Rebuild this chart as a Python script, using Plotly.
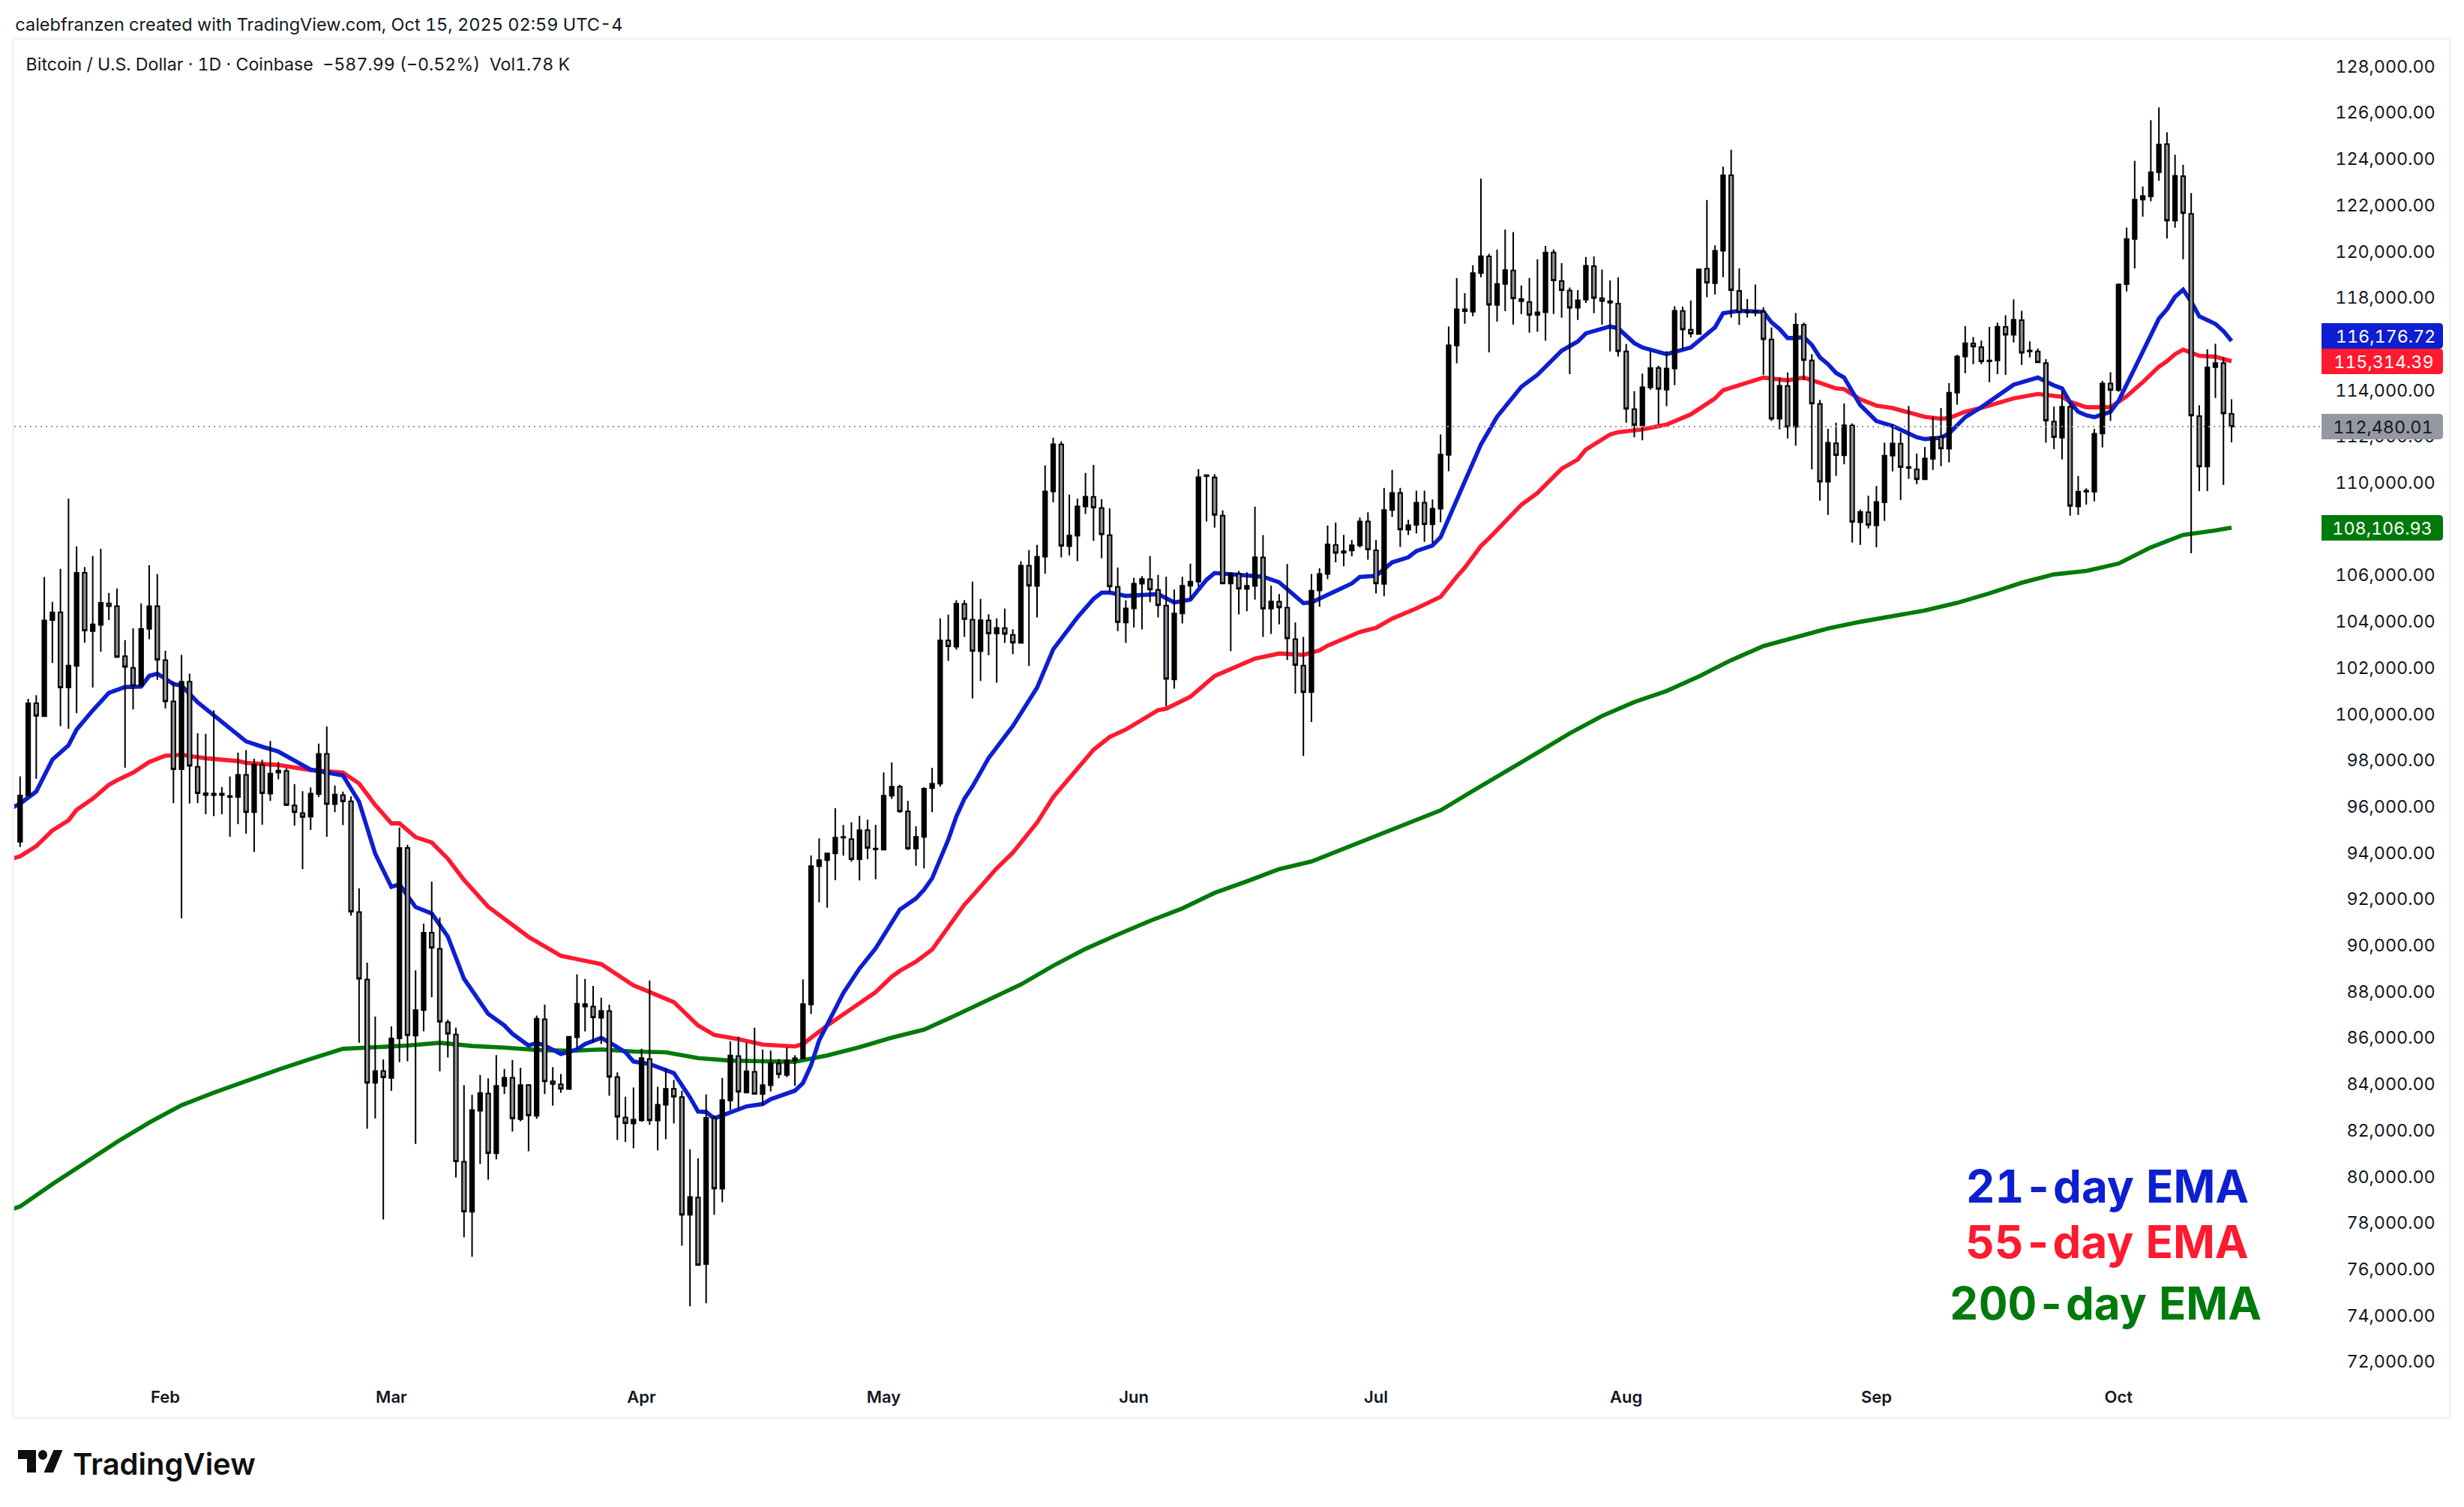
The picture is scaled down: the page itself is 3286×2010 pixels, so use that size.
import pandas as pd
import plotly.graph_objects as go

# ---------- data (prices in thousands of USD) ----------
first_day = "2025-01-14"
opens = [94.53,96.53,100.52,99.96,104.12,104.45,101.20,102.13,106.16,103.64,103.91,104.84,104.72,102.55,102.05,101.28,103.74,104.72,102.38,100.60,
97.67,101.45,97.77,96.55,96.61,96.55,96.51,96.47,97.42,95.81,97.85,96.61,97.52,97.59,96.10,95.77,95.62,96.59,98.33,96.16,
96.55,96.28,91.49,88.57,84.11,84.62,84.32,86.03,94.26,86.15,87.25,90.60,89.90,86.73,86.20,80.70,78.53,82.90,83.65,81.06,
83.97,84.33,82.54,84.01,82.68,86.86,84.17,84.04,83.84,86.08,87.41,87.41,86.92,87.21,84.36,82.61,82.35,82.49,85.14,82.48,
83.16,83.85,83.49,78.40,79.15,76.27,82.58,79.53,83.35,85.27,83.69,84.59,83.62,84.00,84.94,84.45,85.07,85.17,87.50,93.48,
93.74,94.03,94.71,94.64,93.78,95.03,94.20,94.19,96.52,96.91,95.84,94.24,94.74,96.85,97.04,103.23,102.97,104.81,104.13,102.77,
104.10,103.53,103.77,103.48,103.13,106.47,105.59,106.86,109.68,111.71,107.31,107.76,109.03,109.44,108.96,107.79,105.55,104.01,104.62,105.69,
105.88,105.42,104.74,101.55,104.40,105.60,105.78,110.34,110.28,108.63,105.70,106.11,105.46,105.59,106.82,104.61,104.91,104.65,103.29,102.15,
101.00,105.40,106.11,107.37,107.03,107.12,107.34,108.38,107.13,105.68,108.87,109.61,108.02,108.23,109.19,108.26,108.93,111.26,115.99,117.47,
117.45,119.12,119.84,117.74,118.65,119.23,118.00,117.87,117.31,117.42,120.01,118.78,118.36,117.62,117.97,119.42,118.03,117.84,117.80,115.73,
113.23,112.53,114.17,115.02,114.08,114.99,117.48,116.67,116.48,119.30,118.68,120.08,123.35,118.35,117.42,117.47,117.44,116.25,112.82,114.24,
112.47,116.88,115.34,113.46,110.10,111.76,111.24,112.53,108.35,108.78,108.21,109.21,111.22,111.74,110.69,110.63,110.20,111.09,112.03,111.52,
113.95,115.51,116.08,115.92,115.30,115.34,116.79,116.45,117.08,115.77,115.73,115.23,112.70,112.00,113.34,109.03,109.67,109.67,112.18,114.34,
114.06,118.64,120.59,122.29,122.43,123.48,124.69,121.39,123.31,121.68,112.93,110.75,115.05,115.23,113.03]
highs = [97.36,100.71,100.87,105.98,104.90,106.33,109.37,107.30,106.41,106.89,107.20,105.29,105.48,103.25,103.76,104.84,106.49,106.10,102.79,101.45,
102.61,101.80,99.22,99.20,100.21,96.90,97.36,98.39,98.49,98.12,98.08,98.89,97.98,97.71,97.03,96.72,96.88,98.78,99.51,96.96,
96.70,96.49,92.52,89.30,86.98,85.12,86.55,95.15,94.40,88.97,90.99,92.81,91.26,86.84,86.49,84.01,83.59,84.45,84.30,85.31,
84.71,85.10,84.76,84.05,87.02,87.49,84.79,84.49,86.12,88.80,88.60,88.30,87.79,87.49,84.56,83.51,83.91,85.58,88.53,83.94,
84.74,84.24,83.77,81.23,80.84,83.61,82.71,84.32,85.91,86.10,85.84,86.49,85.55,85.50,85.14,85.63,85.30,88.58,93.94,94.68,
94.06,95.98,95.26,95.37,95.65,95.49,95.26,97.53,97.96,96.99,96.30,95.20,96.89,97.72,104.19,104.35,104.98,104.98,105.78,105.03,
104.37,104.19,104.61,103.72,106.66,107.14,107.37,110.80,112.00,111.84,109.54,109.37,110.48,110.83,109.34,108.95,106.39,104.97,105.94,106.01,
106.89,106.07,105.99,105.44,105.99,106.56,110.64,110.41,110.42,108.86,106.18,106.24,106.18,109.02,107.79,105.60,105.24,106.54,104.01,103.39,
106.11,106.35,108.20,108.33,107.80,107.58,108.55,108.78,107.58,109.83,110.61,109.83,108.45,109.71,109.71,109.33,112.14,116.81,118.90,118.25,
119.46,123.20,119.95,120.13,121.00,120.89,118.58,118.91,119.72,120.29,120.14,119.55,118.49,118.38,119.81,119.84,119.27,118.80,118.93,116.05,
114.01,114.77,115.74,115.11,115.74,117.68,117.67,117.93,119.30,122.28,120.32,123.72,124.45,119.32,118.00,118.62,117.64,116.77,114.60,114.82,
117.39,116.98,115.61,113.63,112.38,112.65,113.48,112.62,108.89,109.49,109.91,111.78,112.58,112.22,113.37,111.31,111.60,112.92,113.28,114.36,
115.58,116.82,116.35,116.20,116.79,116.98,117.29,117.98,117.49,116.17,115.86,115.40,113.35,114.02,113.52,110.35,109.81,112.38,114.46,114.83,
118.67,121.09,123.97,122.86,125.73,126.28,125.20,124.23,123.80,122.58,113.40,115.83,116.06,115.47,113.66]
lows = [94.30,96.53,97.25,99.96,102.26,99.53,99.42,100.09,103.14,101.20,102.75,104.12,102.48,97.73,100.25,101.28,103.29,101.53,100.29,96.20,
91.22,96.18,96.20,95.72,95.64,95.72,94.75,95.29,94.88,94.09,95.27,96.30,97.23,96.08,95.23,93.35,95.04,96.47,94.75,95.81,
95.25,91.34,85.84,82.12,82.57,78.20,83.76,85.00,85.04,81.47,86.34,87.81,84.60,85.20,80.02,77.43,76.59,80.60,79.92,80.80,
83.62,82.00,82.45,81.15,82.55,83.62,83.12,83.68,83.82,85.58,86.33,85.86,85.79,83.55,81.64,81.55,81.28,82.42,82.29,81.19,
81.67,82.35,77.07,74.45,76.20,74.58,78.40,78.95,82.93,83.00,83.67,83.61,83.12,83.74,84.30,84.35,83.98,85.14,87.08,91.91,
91.68,92.87,93.93,93.67,92.86,93.78,92.91,94.16,96.39,95.79,94.17,93.49,93.38,95.81,96.91,102.35,102.84,103.39,100.73,101.48,
102.59,101.41,103.13,102.64,103.12,102.13,104.23,106.12,109.21,106.82,106.91,106.66,108.70,107.54,106.79,105.31,103.64,103.13,103.79,103.71,
104.89,104.23,100.39,101.15,103.97,105.03,105.57,108.38,108.11,105.69,102.77,104.36,104.50,105.00,103.39,103.52,103.93,102.39,100.93,98.24,
99.71,104.69,105.88,106.61,106.44,106.87,107.25,106.73,105.27,105.15,108.57,107.28,107.80,107.86,107.50,107.44,108.35,110.55,115.22,116.93,
117.25,118.94,115.69,117.02,117.47,116.89,117.34,116.54,116.58,116.19,117.35,117.19,114.75,117.09,117.83,117.38,116.89,115.73,115.51,112.65,
112.02,111.89,114.08,112.57,113.36,114.27,115.80,116.34,116.48,118.07,118.19,118.94,117.20,116.87,117.20,117.25,114.72,112.72,112.36,111.97,
111.65,114.49,110.63,109.28,108.66,110.35,110.85,107.46,107.37,108.08,107.26,108.40,110.54,109.30,110.22,109.99,110.19,110.61,110.77,110.93,
113.43,114.79,115.18,115.18,114.40,114.75,114.72,116.12,115.15,115.47,115.25,111.78,111.51,111.06,108.63,108.66,109.11,109.25,111.58,112.72,
113.99,118.32,119.32,121.56,122.22,123.11,120.62,121.08,119.72,107.00,109.69,109.69,113.72,109.96,111.80]
closes = [96.53,100.52,99.98,104.10,104.45,101.20,102.15,106.16,103.66,103.93,104.86,104.72,102.52,102.09,101.28,103.74,104.72,102.40,100.60,97.67,
101.45,97.81,96.63,96.63,96.55,96.61,96.47,97.42,95.81,97.87,96.63,97.48,97.61,96.12,95.81,95.60,96.61,98.33,96.16,96.57,
96.28,91.51,88.61,84.11,84.62,84.34,86.03,94.26,86.17,87.25,90.60,89.94,86.75,86.23,80.71,78.54,82.93,83.67,81.07,83.98,
84.33,82.57,84.01,82.70,86.88,84.17,84.06,83.85,86.10,87.53,87.51,86.94,87.22,84.37,82.64,82.36,82.52,85.18,82.49,83.16,
83.85,83.51,78.40,79.17,76.23,82.59,79.54,83.36,85.29,83.72,84.61,83.63,84.01,84.95,84.48,85.08,85.17,87.51,93.48,93.74,
94.03,94.71,94.74,93.78,95.03,94.26,94.24,96.52,96.91,95.84,94.24,94.74,96.82,97.04,103.23,102.98,104.82,104.16,102.78,104.11,
103.53,103.78,103.52,103.14,106.47,105.60,106.86,109.68,111.72,107.33,107.77,109.03,109.45,108.98,107.82,105.57,104.03,104.62,105.69,105.89,
105.44,104.76,101.57,104.40,105.60,105.78,110.29,110.38,108.66,105.70,106.11,105.47,105.60,106.83,104.61,104.92,104.66,103.32,102.17,101.00,
105.39,106.11,107.38,107.02,107.09,107.35,108.38,107.16,105.70,108.87,109.61,108.03,108.22,109.19,108.26,108.93,111.27,116.00,117.55,117.55,
119.12,119.85,117.75,118.65,119.25,118.02,117.90,117.31,117.42,120.01,118.80,118.38,117.62,117.94,119.43,118.04,117.91,117.90,115.74,113.25,
112.55,114.18,115.02,114.11,114.99,117.49,116.68,116.50,119.28,118.70,120.08,123.35,118.38,117.42,117.47,117.42,116.26,112.82,114.25,112.47,
116.89,115.36,113.48,110.10,111.78,111.25,112.54,108.36,108.79,108.23,109.22,111.22,111.75,110.73,110.73,110.20,111.10,112.03,111.53,113.95,
115.51,116.09,115.94,115.30,115.34,116.80,116.45,117.10,115.67,115.73,115.26,112.74,112.03,113.34,109.05,109.67,109.71,112.17,114.34,114.06,
118.62,120.59,122.29,122.45,123.48,124.68,121.39,123.32,121.71,112.96,110.75,115.04,115.23,113.05,112.48]

# EMA readings, each with the number of days after the first candle at which it was read
ema21_day = [-1,0,2,4,6,7,9,11,13,15,16,17,19,20,22,24,27,28,30,32,36,40,42,44,46,47,49,51,53,55,58,60,61,63,64,65,67,69,70,72,73,75,76,78,81,83,84,85,86,88,90,92,93,96,97,98,99,102,104,106,108,
109,111,112,113,115,116,117,118,120,123,126,128,129,131,133,134,135,137,141,143,145,147,148,152,154,156,159,160,
161,163,165,166,168,170,172,173,175,176,178,179,181,182,183,186,188,191,193,194,197,198,200,201,204,207,210,211,213,216,217,218,219,220,
221,222,223,224,225,226,228,230,232,235,236,238,239,241,243,247,248,250,252,253,254,255,256,257,259,260,262,263,265,266,267,268,269,270,272,273,274]
ema21 = [96.00,96.18,96.70,98.08,98.70,99.38,100.21,100.97,101.22,101.24,101.70,101.80,101.35,101.28,100.56,100.00,99.18,98.87,98.64,98.43,97.65,97.40,96.26,94.01,92.58,92.69,91.71,91.43,90.43,88.61,87.09,86.59,86.23,85.72,85.84,85.72,85.36,85.55,85.79,86.05,85.86,85.43,85.03,84.92,84.53,83.48,82.87,82.85,82.57,82.85,83.09,83.19,83.40,83.77,84.10,84.87,85.94,87.99,89.05,89.92,91.09,
91.60,92.08,92.46,92.95,94.62,95.62,96.39,96.92,98.15,99.53,101.19,102.85,103.29,104.23,105.03,105.30,105.31,105.16,105.24,104.88,105.00,105.86,106.15,106.07,105.99,105.75,104.85,104.88,
105.05,105.37,105.70,105.98,106.03,106.61,106.83,107.10,107.34,107.70,109.25,110.11,111.71,112.31,112.91,114.20,114.72,115.76,116.16,116.51,116.81,116.73,116.09,115.90,115.61,115.90,116.77,117.38,117.49,117.44,116.99,116.70,116.31,116.31,
116.35,116.01,115.47,115.18,114.80,114.60,113.41,112.72,112.51,112.02,111.94,112.00,112.18,112.89,113.32,114.29,114.40,114.60,114.26,114.13,113.52,113.12,112.97,112.89,113.12,113.59,115.00,115.74,117.15,117.55,118.09,118.40,117.89,117.25,116.92,116.61,116.18]
ema55_day = [-1,0,2,4,6,7,9,11,12,14,16,18,20,23,27,28,32,36,40,42,44,46,47,49,51,53,55,58,63,67,72,76,77,81,84,85,86,89,92,96,97,100,103,106,108,
109,111,113,115,117,118,120,121,123,125,126,128,130,133,135,137,141,142,145,148,153,156,159,160,
161,162,166,168,170,173,176,178,179,181,182,186,188,191,193,194,197,198,201,204,207,210,211,214,216,219,220,
221,223,225,226,228,230,232,236,238,239,241,243,247,250,253,254,256,259,261,263,265,266,267,268,270,272,274]
ema55 = [93.80,93.90,94.34,95.02,95.46,95.91,96.39,96.99,97.19,97.52,97.98,98.25,98.29,98.14,98.02,97.94,97.85,97.63,97.52,97.05,96.12,95.33,95.33,94.73,94.50,93.80,92.88,91.72,90.42,89.60,89.24,88.32,88.18,87.60,86.59,86.41,86.18,86.00,85.76,85.68,85.79,86.59,87.31,88.03,88.70,
88.95,89.35,89.87,90.84,91.81,92.19,93.02,93.38,94.06,94.89,95.36,96.46,97.28,98.51,99.06,99.38,100.22,100.28,100.80,101.70,102.45,102.67,102.61,102.71,
102.81,103.01,103.60,103.78,104.18,104.62,105.12,105.99,106.38,107.32,107.65,109.10,109.61,110.66,111.06,111.49,112.14,112.24,112.36,112.57,113.01,113.70,114.05,114.38,114.60,114.48,114.53,
114.60,114.37,114.13,114.10,113.66,113.39,113.28,112.90,112.82,112.85,113.12,113.29,113.70,113.89,113.77,113.55,113.32,113.32,113.79,114.40,115.07,115.31,115.61,115.81,115.54,115.50,115.31]
# the 200-day line: the day before the first candle, then every 4th candle, then the last candle
ema200_day = [-1] + list(range(0, 273, 4)) + [274]
ema200 = [78.65,78.76,79.73,80.66,81.55,82.39,83.14,83.68,84.19,84.68,85.14,85.58,85.65,85.72,85.84,85.70,85.63,85.53,85.49,85.55,
85.46,85.43,85.18,85.07,85.04,85.02,85.29,85.65,86.06,86.41,87.04,87.71,88.36,89.17,89.90,90.52,91.11,91.65,92.32,92.82,
93.35,93.68,94.23,94.77,95.33,95.89,96.73,97.54,98.38,99.22,99.97,100.57,101.05,101.68,102.38,102.99,103.37,103.75,104.04,104.27,
104.53,104.86,105.27,105.73,106.09,106.24,106.56,107.26,107.80,107.99,108.11]

month_ticks = ["2025-02-01","2025-03-01","2025-04-01","2025-05-01","2025-06-01","2025-07-01","2025-08-01","2025-09-01","2025-10-01"]
month_labels = ["Feb","Mar","Apr","May","Jun","Jul","Aug","Sep","Oct"]
price_ticks = list(range(72000, 128001, 2000))
last_price = 112480.01
tag_texts = ["116,176.72","115,314.39","112,480.01","108,106.93"]
legend_texts = ["21-day EMA","55-day EMA","200-day EMA"]
header = "calebfranzen created with TradingView.com, Oct 15, 2025 02:59 UTC-4"
subtitle = "Bitcoin / U.S. Dollar · 1D · Coinbase  −587.99 (−0.52%)  Vol1.78 K"

# ---------- geometry and style ----------
W, H = 3286, 2010
BLUE, RED, GREEN, GREY = "#0d1fd0", "#ff1a2f", "#007a0b", "#9598a1"
INK = "#131722"
FONT = "Inter"
def px(x): return x / W
def py(y): return 1 - y / H

K = 1000
start = pd.Timestamp(first_day)
days = pd.date_range(start, periods=len(opens), freq="D")
def day_dates(offsets): return [start + pd.Timedelta(days=d) for d in offsets]

usd_per_px = 1 / 0.03085
day_px = 10.763
x_range = [days[0] - pd.Timedelta(days=7.8 / day_px), days[-1] + pd.Timedelta(days=290 / day_px)]
y_range = [last_price - (1890 - 569) * usd_per_px, last_price + (569 - 53) * usd_per_px]
dom_x = [px(19), px(3266)]
dom_y = [py(1890), py(53)]
label_lift = 1.6 * usd_per_px          # the price labels sit slightly above their true level

fig = go.Figure()
for offsets, values, color in ((ema200_day, ema200, GREEN), (ema55_day, ema55, RED), (ema21_day, ema21, BLUE)):
    fig.add_trace(go.Scatter(x=day_dates(offsets), y=[v * K for v in values], mode="lines",
                             line=dict(color=color, width=5.6), hoverinfo="skip"))
fig.add_trace(go.Candlestick(
    x=days, open=[v * K for v in opens], high=[v * K for v in highs],
    low=[v * K for v in lows], close=[v * K for v in closes],
    xaxis="x2", yaxis="y2", whiskerwidth=0,
    increasing=dict(line=dict(color="#000000", width=2), fillcolor="#000000"),
    decreasing=dict(line=dict(color="#000000", width=2), fillcolor="#8f9199"),
    hoverinfo="skip"))

def rounded_tag(x0, x1, y0, y1, r=5):
    X = lambda v: f"{px(v):.6f}"
    Y = lambda v: f"{py(v):.6f}"
    return (f"M{X(x0)},{Y(y0)} L{X(x1-r)},{Y(y0)} Q{X(x1)},{Y(y0)} {X(x1)},{Y(y0+r)} "
            f"L{X(x1)},{Y(y1-r)} Q{X(x1)},{Y(y1)} {X(x1-r)},{Y(y1)} L{X(x0)},{Y(y1)} Z")

shapes = [dict(type="line", xref="paper", yref="y", x0=px(19), x1=px(3096), y0=last_price, y1=last_price,
               line=dict(color=GREY, width=2, dash="2px,5px"), layer="above")]
annotations = []
tag_rows = [(431, 465, BLUE, "white"), (465, 499, RED, "white"), (552, 586, GREY, INK), (687, 721, GREEN, "white")]
for (y0, y1, fill, fg), text in zip(tag_rows, tag_texts):
    shapes.append(dict(type="path", xref="paper", yref="paper", path=rounded_tag(3096, 3258, y0, y1),
                       fillcolor=fill, line=dict(width=0), layer="above"))
    annotations.append(dict(xref="paper", yref="paper", x=px(3237), y=py((y0 + y1) / 2), text=text, showarrow=False,
                            xanchor="right", yanchor="middle", font=dict(family=FONT, size=23.3, color=fg)))

for text, xc, yc, col in zip(legend_texts, (2810, 2810, 2808), (1582, 1656, 1738), (BLUE, RED, GREEN)):
    annotations.append(dict(xref="paper", yref="paper", x=px(xc), y=py(yc), text=text, showarrow=False,
                            xanchor="center", yanchor="middle",
                            font=dict(family=FONT, size=60, color=col, weight=700)))

annotations += [
    dict(xref="paper", yref="paper", x=px(26), y=py(32), text=header, showarrow=False, xanchor="left", yanchor="middle",
         font=dict(family=FONT, size=23.5, color=INK)),
    dict(xref="paper", yref="paper", x=px(43), y=py(86), text=subtitle, showarrow=False, xanchor="left", yanchor="middle",
         font=dict(family=FONT, size=23.2, color=INK)),
    dict(xref="paper", yref="paper", x=px(95), y=py(1952), text="TradingView", showarrow=False, xanchor="left", yanchor="middle",
         font=dict(family=FONT, size=40, color="#0f0f0f", weight=600)),
]
logo = "#0f0f0f"
def poly(points):
    return "M" + " L".join(f"{px(a):.6f},{py(b):.6f}" for a, b in points) + " Z"
shapes += [
    dict(type="path", xref="paper", yref="paper", fillcolor=logo, line=dict(width=0), layer="above",
         path=poly([(24, 1934), (48, 1934), (48, 1964), (36, 1964), (36, 1946), (24, 1946)])),
    dict(type="path", xref="paper", yref="paper", fillcolor=logo, line=dict(width=0), layer="above",
         path=poly([(71.5, 1934), (83.5, 1934), (71, 1964), (58.5, 1964)])),
    dict(type="circle", xref="paper", yref="paper", fillcolor=logo, line=dict(width=0), layer="above",
         x0=px(51), x1=px(63), y0=py(1934), y1=py(1947)),
]

base_x = dict(domain=dom_x, range=x_range, type="date", rangeslider=dict(visible=False), fixedrange=True)
fig.update_layout(
    width=W, height=H, autosize=False, margin=dict(l=0, r=0, t=0, b=0),
    paper_bgcolor="white", plot_bgcolor="white", showlegend=False, hovermode=False,
    boxgap=0.3,
    xaxis=dict(**base_x, tickmode="array", tickvals=month_ticks, ticktext=month_labels, showgrid=False, zeroline=False,
               ticks="", ticklabelposition="inside", ticklabelstandoff=16,
               tickfont=dict(family=FONT, size=22, color=INK, weight=600),
               showline=True, mirror=True, linecolor="#f2f3f5", linewidth=3),
    yaxis=dict(domain=dom_y, range=y_range, side="right", tickmode="array",
               tickvals=[p + label_lift for p in price_ticks], ticktext=[f"{p:,.2f}" for p in price_ticks],
               showgrid=False, zeroline=False, ticks="", ticklabelposition="inside",
               ticklabelstandoff=20, tickfont=dict(family=FONT, size=23.3, color=INK),
               showline=True, mirror=True, linecolor="#f2f3f5", linewidth=3, fixedrange=True),
    xaxis2=dict(**base_x, overlaying="x", visible=False, anchor="y2"),
    yaxis2=dict(domain=dom_y, range=y_range, overlaying="y", visible=False, anchor="x2", fixedrange=True),
    shapes=shapes, annotations=annotations,
)

tabular = """
document.body.style.margin='0';document.body.style.overflow='hidden';
var s=document.createElement('style');
s.textContent='.main-svg text{font-feature-settings:"tnum" 1;font-variant-numeric:tabular-nums}';
document.head.appendChild(s);
var gd=document.getElementById('{plot_id}');
Plotly.redraw(gd);
"""
fig.write_html("out.html", config=dict(displayModeBar=False, staticPlot=True), post_script=tabular)
